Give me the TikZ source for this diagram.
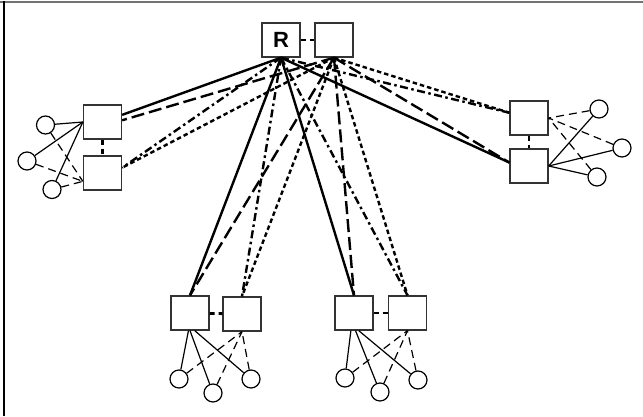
\documentclass[tikz,border=0pt]{standalone}
\usepackage{fontspec}
\setmainfont{Liberation Sans}
\tikzset{
  sq/.style={draw=black!80, line width=1.3pt, minimum width=38pt, minimum height=34pt, inner sep=0pt, fill=white},
  leaf/.style={draw, circle, line width=1.2pt, minimum size=18pt, inner sep=0pt},
  trunk/.style={line width=2.4pt},
  trunkdash/.style={line width=2.4pt, dash pattern=on 13pt off 5pt},
  trunkdashdot/.style={line width=2.4pt, dash pattern=on 8pt off 3.5pt on 2.5pt off 3.5pt},
  trunkdot/.style={line width=2.4pt, dash pattern=on 4.5pt off 3pt},
  pairln/.style={line width=2.8pt, dash pattern=on 5pt off 4pt},
  hostln/.style={line width=1.2pt},
  hostdash/.style={line width=1.2pt, dash pattern=on 8pt off 5pt}
}

\begin{document}
\begin{tikzpicture}[x=1pt, y=-1pt]
\useasboundingbox (0,0) rectangle (643,416);
\draw[black!55, line width=2pt] (0,2) -- (643,2);
\draw[line width=1.5pt] (4,1) -- (4,416);

% top pair
\node[sq] (R) at (281,40) {\bfseries\fontsize{22}{26}\selectfont R};
\node[sq] (B) at (334,40) {};
% left pair
\node[sq] (l1) at (102.5,122) {};
\node[sq] (l2) at (102.5,173) {};
% right pair
\node[sq] (r1) at (529,118) {};
\node[sq] (r2) at (529,166) {};
% bottom pairs
\node[sq] (b1) at (190,313) {};
\node[sq] (b2) at (242,314) {};
\node[sq] (c1) at (354,313) {};
\node[sq] (c2) at (407.5,313) {};

% hosts
\node[leaf] (lh1) at (45.5,125) {};
\node[leaf] (lh2) at (27,161) {};
\node[leaf] (lh3) at (52,189.5) {};
\node[leaf] (rh1) at (599,109) {};
\node[leaf] (rh2) at (622,148) {};
\node[leaf] (rh3) at (597,177) {};
\node[leaf] (bh1) at (179,379) {};
\node[leaf] (bh2) at (213,393) {};
\node[leaf] (bh3) at (251,379) {};
\node[leaf] (ch1) at (345,378) {};
\node[leaf] (ch2) at (380,392) {};
\node[leaf] (ch3) at (418,380) {};

% links inside the pairs
\draw[pairln] (R) -- (B);
\draw[pairln] (l1) -- (l2);
\draw[pairln] (r1) -- (r2);
\draw[pairln] (b1) -- (b2);
\draw[pairln] (c1) -- (c2);

% trunks
\draw[trunk] (R.south) -- (l1.20);
\draw[trunkdash] (B.south) -- (l1.5);
\draw[trunkdashdot] (R.south) -- (l2.15);
\draw[trunkdot] (B.south) -- (l2.15);

\draw[trunk] (R.south) -- (r2.170);
\draw[trunkdash] (B.south) -- (r2.170);
\draw[trunkdashdot] (R.south) -- (r1.165);
\draw[trunkdot] (B.south) -- (r1.165);

\draw[trunk] (R.south) -- (b1.north);
\draw[trunkdash] (B.south) -- (b1.north);
\draw[trunkdashdot] (R.south) -- (b2.north);
\draw[trunkdot] (B.south) -- (b2.north);

\draw[trunk] (R.south) -- (c1.north);
\draw[trunkdash] (B.south) -- (c1.north);
\draw[trunkdashdot] (R.south) -- (c2.north);
\draw[trunkdot] (B.south) -- (c2.north);

% host links
\draw[hostln] (lh1) -- (l1.west);
\draw[hostln] (lh2) -- (l1.west);
\draw[hostln] (lh3) -- (l1.west);
\draw[hostdash] (lh1) -- (l2.203);
\draw[hostdash] (lh2) -- (l2.203);
\draw[hostdash] (lh3) -- (l2.203);

\draw[hostln] (rh1) -- (r2.east);
\draw[hostln] (rh2) -- (r2.east);
\draw[hostln] (rh3) -- (r2.east);
\draw[hostdash] (rh1) -- (r1.east);
\draw[hostdash] (rh2) -- (r1.east);
\draw[hostdash] (rh3) -- (r1.east);

\draw[hostln] (bh1) -- (b1.-95);
\draw[hostln] (bh2) -- (b1.south);
\draw[hostln] (bh3) -- (b1.-75);
\draw[hostdash] (bh1) -- (b2.south);
\draw[hostdash] (bh2) -- (b2.south);
\draw[hostdash] (bh3) -- (b2.south);

\draw[hostln] (ch1) -- (c1.-100);
\draw[hostln] (ch2) -- (c1.-85);
\draw[hostln] (ch3) -- (c1.-75);
\draw[hostdash] (ch1) -- (c2.south);
\draw[hostdash] (ch2) -- (c2.south);
\draw[hostdash] (ch3) -- (c2.south);
\end{tikzpicture}
\end{document}
